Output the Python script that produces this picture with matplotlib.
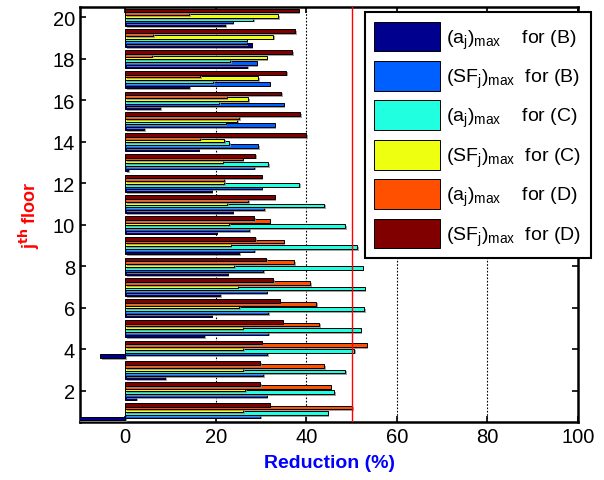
import matplotlib
matplotlib.use("Agg")
import matplotlib.pyplot as plt
import matplotlib.patheffects as pe
import numpy as np

plt.rcParams['font.family'] = ['Liberation Sans', 'DejaVu Sans']
plt.rcParams['mathtext.fontset'] = 'custom'
plt.rcParams['mathtext.rm'] = 'Liberation Sans'
plt.rcParams['mathtext.it'] = 'Liberation Sans'

floors = list(range(1, 21))
a_B = [-12, 2.4, 8.8, -5.6, 17.4, 19.1, 20.9, 22.6, 25.2, 20.2, 23.7, 19.1, 0.6, 16.2, 4.1, 7.7, 14.1, 26.9, 27.9, 22.0]
SF_B = [29.8, 31.2, 30.5, 31.3, 31.6, 31.6, 31.2, 30.4, 28.4, 27.3, 30.7, 30.1, 28.5, 29.4, 33.0, 35.0, 31.9, 29.0, 26.8, 23.7]
a_C = [44.7, 46.1, 48.6, 50.5, 52.0, 52.7, 52.9, 52.4, 51.2, 48.6, 44.0, 38.4, 31.6, 23.0, 22.2, 20.7, 19.4, 23.2, 26.8, 28.3]
SF_C = [26.1, 26.5, 26.1, 26.1, 25.9, 25.2, 24.8, 24.1, 23.3, 23.0, 22.5, 21.9, 21.5, 21.9, 24.7, 27.2, 29.3, 31.2, 32.6, 33.7]
a_D = [50.1, 45.4, 44.0, 53.3, 42.8, 42.2, 40.8, 37.3, 35.0, 31.9, 27.2, 21.9, 25.9, 16.5, 25.2, 22.4, 16.5, 5.9, 6.1, 14.1]
SF_D = [31.9, 29.8, 29.8, 30.1, 34.8, 34.1, 32.7, 31.1, 28.7, 28.4, 33.0, 30.1, 28.7, 39.9, 38.7, 34.4, 35.5, 36.8, 37.6, 38.3]

series = [a_B, SF_B, a_C, SF_C, a_D, SF_D]
labels = [r'$(\mathrm{a}_{\mathrm{j}})_{\mathrm{max}}$    for (B)',
          r'$(\mathrm{SF}_{\mathrm{j}})_{\mathrm{max}}$  for (B)',
          r'$(\mathrm{a}_{\mathrm{j}})_{\mathrm{max}}$    for (C)',
          r'$(\mathrm{SF}_{\mathrm{j}})_{\mathrm{max}}$  for (C)',
          r'$(\mathrm{a}_{\mathrm{j}})_{\mathrm{max}}$    for (D)',
          r'$(\mathrm{SF}_{\mathrm{j}})_{\mathrm{max}}$  for (D)']
colors = [(0, 0, 0.5625), (0, 0.375, 1), (0.125, 1, 0.875),
          (0.9375, 1, 0.0625), (1, 0.3125, 0), (0.5, 0, 0)]

fig = plt.figure(figsize=(6.04, 4.81), dpi=100)
ax = fig.add_axes([80/604, 1-423/481, (578-80)/604, (423-8)/481])

y = np.array(floors, dtype=float)
slot = 0.8 / 6
for i, (vals, c, lab) in enumerate(zip(series, colors, labels)):
    bars = ax.barh(y + (i - 2.5) * slot, vals, height=slot * 1.4, color=c,
                   edgecolor='black', linewidth=0.7, label=lab, zorder=3 + i * 0.01)
    for b in bars:
        b.set_path_effects([pe.SimplePatchShadow(offset=(1.2, -1.2), shadow_rgbFace='0.55', alpha=0.8), pe.Normal()])

ax.axvline(50, color='red', linewidth=1.0, zorder=5)
for gx in [20, 40, 60, 80, 100]:
    ax.axvline(gx, color='black', linestyle=(0, (1.5, 1.5)), linewidth=0.8, zorder=1)

ax.set_xlim(-10, 100)
ax.set_ylim(0.5, 20.5)
ax.set_xticks([0, 20, 40, 60, 80, 100])
ax.set_yticks([2, 4, 6, 8, 10, 12, 14, 16, 18, 20])
ax.tick_params(direction='in', labelsize=14.5, top=True, right=True, width=1.2, length=4)
for s in ax.spines.values():
    s.set_linewidth(1.8)

ax.set_xlabel('Reduction (%)', color='blue', fontsize=14, fontweight='bold', labelpad=6)
ax.set_ylabel(r'j$^{\mathbf{th}}$ floor', color='red', fontsize=13, fontweight='bold', labelpad=8)

leg = ax.legend(loc='upper right', fontsize=14, handlelength=3.4, handleheight=1.97,
                labelspacing=0.5, handletextpad=0.3, borderpad=0.5, fancybox=False,
                framealpha=1, edgecolor='black', bbox_to_anchor=(1.026, 0.988),
                borderaxespad=0)
leg.get_frame().set_linewidth(1.5)
leg.set_zorder(10)
for h in leg.legend_handles:
    h.set_path_effects([])

fig.savefig('out.png', dpi=100)
